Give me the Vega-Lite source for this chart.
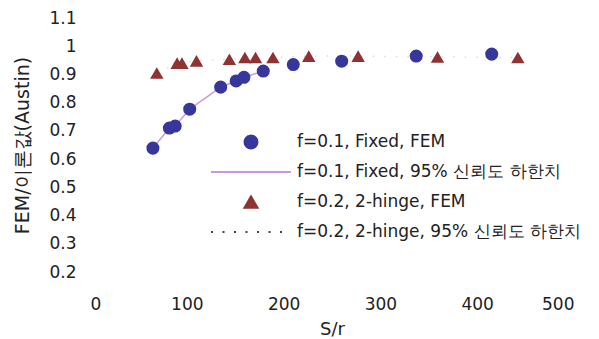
{
  "$schema": "https://vega.github.io/schema/vega-lite/v6.json",
  "width": 484,
  "height": 254,
  "autosize": "none",
  "padding": {"left": 90, "top": 18, "right": 25, "bottom": 67},
  "background": "white",
  "config": {
    "view": {"stroke": null},
    "font": "DejaVu Sans",
    "axis": {"grid": false, "domain": false, "ticks": false, "labelColor": "#222", "titleColor": "#222", "labelFont": "DejaVu Sans", "titleFont": "DejaVu Sans", "titleFontWeight": "normal"}
  },
  "datasets": {
    "pts": [
      {"series": "f=0.1, Fixed, FEM", "x": 65, "y": 0.639},
      {"series": "f=0.1, Fixed, FEM", "x": 82, "y": 0.71},
      {"series": "f=0.1, Fixed, FEM", "x": 88, "y": 0.717},
      {"series": "f=0.1, Fixed, FEM", "x": 103, "y": 0.777},
      {"series": "f=0.1, Fixed, FEM", "x": 135, "y": 0.855},
      {"series": "f=0.1, Fixed, FEM", "x": 151, "y": 0.877},
      {"series": "f=0.1, Fixed, FEM", "x": 159, "y": 0.89},
      {"series": "f=0.1, Fixed, FEM", "x": 179, "y": 0.912},
      {"series": "f=0.1, Fixed, FEM", "x": 210, "y": 0.935},
      {"series": "f=0.1, Fixed, FEM", "x": 260, "y": 0.947},
      {"series": "f=0.1, Fixed, FEM", "x": 337, "y": 0.965},
      {"series": "f=0.1, Fixed, FEM", "x": 415, "y": 0.972},
      {"series": "f=0.2, 2-hinge, FEM", "x": 69, "y": 0.905},
      {"series": "f=0.2, 2-hinge, FEM", "x": 90, "y": 0.94},
      {"series": "f=0.2, 2-hinge, FEM", "x": 95, "y": 0.94},
      {"series": "f=0.2, 2-hinge, FEM", "x": 110, "y": 0.948},
      {"series": "f=0.2, 2-hinge, FEM", "x": 144, "y": 0.954},
      {"series": "f=0.2, 2-hinge, FEM", "x": 160, "y": 0.96},
      {"series": "f=0.2, 2-hinge, FEM", "x": 171, "y": 0.96},
      {"series": "f=0.2, 2-hinge, FEM", "x": 189, "y": 0.96},
      {"series": "f=0.2, 2-hinge, FEM", "x": 226, "y": 0.965},
      {"series": "f=0.2, 2-hinge, FEM", "x": 277, "y": 0.965},
      {"series": "f=0.2, 2-hinge, FEM", "x": 359, "y": 0.962},
      {"series": "f=0.2, 2-hinge, FEM", "x": 442, "y": 0.96}
    ],
    "lines": [
      {"series": "f=0.1, Fixed, 95% 신뢰도 하한치", "x": 65, "y": 0.639},
      {"series": "f=0.1, Fixed, 95% 신뢰도 하한치", "x": 82, "y": 0.71},
      {"series": "f=0.1, Fixed, 95% 신뢰도 하한치", "x": 88, "y": 0.717},
      {"series": "f=0.1, Fixed, 95% 신뢰도 하한치", "x": 103, "y": 0.777},
      {"series": "f=0.1, Fixed, 95% 신뢰도 하한치", "x": 135, "y": 0.855},
      {"series": "f=0.1, Fixed, 95% 신뢰도 하한치", "x": 151, "y": 0.877},
      {"series": "f=0.1, Fixed, 95% 신뢰도 하한치", "x": 159, "y": 0.89},
      {"series": "f=0.1, Fixed, 95% 신뢰도 하한치", "x": 179, "y": 0.912},
      {"series": "f=0.2, 2-hinge, 95% 신뢰도 하한치", "x": 69, "y": 0.905},
      {"series": "f=0.2, 2-hinge, 95% 신뢰도 하한치", "x": 90, "y": 0.94},
      {"series": "f=0.2, 2-hinge, 95% 신뢰도 하한치", "x": 110, "y": 0.948},
      {"series": "f=0.2, 2-hinge, 95% 신뢰도 하한치", "x": 144, "y": 0.954},
      {"series": "f=0.2, 2-hinge, 95% 신뢰도 하한치", "x": 189, "y": 0.96},
      {"series": "f=0.2, 2-hinge, 95% 신뢰도 하한치", "x": 226, "y": 0.965},
      {"series": "f=0.2, 2-hinge, 95% 신뢰도 하한치", "x": 277, "y": 0.965},
      {"series": "f=0.2, 2-hinge, 95% 신뢰도 하한치", "x": 359, "y": 0.962},
      {"series": "f=0.2, 2-hinge, 95% 신뢰도 하한치", "x": 442, "y": 0.96}
    ]
  },
  "encoding": {
    "x": {"field": "x", "type": "quantitative", "scale": {"domain": [0, 500], "nice": false},
      "axis": {"values": [0, 100, 200, 300, 400, 500], "title": "S/r", "labelFontSize": 17, "titleFontSize": 18, "labelPadding": 24, "titlePadding": 8}},
    "y": {"field": "y", "type": "quantitative", "scale": {"domain": [0.2, 1.1], "nice": false, "zero": false},
      "axis": {"values": [0.2, 0.3, 0.4, 0.5, 0.6, 0.7, 0.8, 0.9, 1, 1.1], "format": "~g", "title": "FEM/이론값(Austin)", "labelFontSize": 17, "titleFontSize": 19, "labelPadding": 14, "titlePadding": 16}},
    "color": {"field": "series", "type": "nominal",
      "scale": {"domain": ["f=0.1, Fixed, FEM", "f=0.1, Fixed, 95% 신뢰도 하한치", "f=0.2, 2-hinge, FEM", "f=0.2, 2-hinge, 95% 신뢰도 하한치"],
                "range": ["#36369c", "#c99ad9", "#8e3232", "#444444"]},
      "legend": {
        "title": null, "orient": "none", "legendX": 120, "legendY": 114, "columns": 1,
        "labelFontSize": 17, "labelFont": "DejaVu Sans", "labelColor": "#222", "labelOffset": 5, "labelLimit": 0, "rowPadding": 10, "clipHeight": 20,
        "symbolStrokeWidth": 1.8,
        "encode": {"symbols": {"update": {
          "shape": {"signal": "datum.index == 0 ? 'circle' : datum.index == 2 ? 'triangle-up' : 'stroke'"},
          "size": {"signal": "datum.index == 0 ? 170 : datum.index == 2 ? 180 : 6400"},
          "fill": {"signal": "datum.index == 0 ? '#36369c' : datum.index == 2 ? '#8e3232' : 'transparent'"},
          "strokeDash": {"signal": "datum.index == 3 ? [2, 9.5] : [1, 0]"},
          "opacity": {"value": 1}
        }}}
      }}
  },
  "layer": [
    {"data": {"name": "lines"}, "mark": {"type": "line", "strokeWidth": 1.5}, "encoding": {
      "opacity": {"field": "series", "type": "nominal", "legend": null,
        "scale": {"domain": ["f=0.1, Fixed, 95% 신뢰도 하한치", "f=0.2, 2-hinge, 95% 신뢰도 하한치"], "range": [1, 0.2]}},
      "strokeDash": {"field": "series", "type": "nominal", "legend": null,
        "scale": {"domain": ["f=0.1, Fixed, 95% 신뢰도 하한치", "f=0.2, 2-hinge, 95% 신뢰도 하한치"], "range": [[1, 0], [1.5, 10]]}}
    }},
    {"data": {"name": "pts"}, "mark": {"type": "point", "filled": true, "opacity": 1}, "encoding": {
      "shape": {"field": "series", "type": "nominal", "legend": null,
        "scale": {"domain": ["f=0.1, Fixed, FEM", "f=0.2, 2-hinge, FEM"], "range": ["circle", "triangle-up"]}},
      "size": {"field": "series", "type": "nominal", "legend": null,
        "scale": {"domain": ["f=0.1, Fixed, FEM", "f=0.2, 2-hinge, FEM"], "range": [170, 180]}}
    }}
  ]
}
